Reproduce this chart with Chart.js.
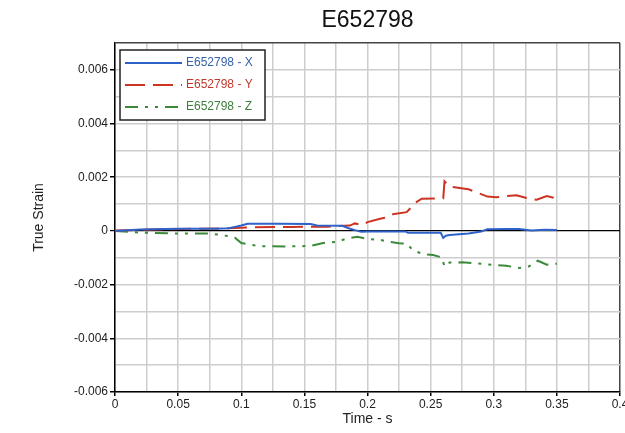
<!DOCTYPE html>
<html>
<head>
<meta charset="utf-8">
<script src="https://cdn.jsdelivr.net/npm/chart.js@4.4.0/dist/chart.umd.min.js"></script>
<style>
  html, body { margin: 0; padding: 0; background: #fff; }
  #wrap { width: 625px; height: 433px; }
</style>
</head>
<body>
<div id="wrap"><canvas id="strain-chart" width="625" height="433"></canvas></div>
<script>
// Values
const chartTitle = 'E652798';
const seriesNames = ['E652798 - X', 'E652798 - Y', 'E652798 - Z'];

const xTime = [0, 0.02, 0.05, 0.08, 0.09, 0.095, 0.1, 0.105, 0.13, 0.155, 0.16, 0.18, 0.185, 0.19,
  0.195, 0.2, 0.23, 0.232, 0.258, 0.26, 0.262, 0.265, 0.28, 0.29, 0.295, 0.31, 0.32, 0.33, 0.34, 0.35];
const xStrain = [0, 0.00005, 0.00008, 0.00008, 0.0001, 0.00015, 0.0002, 0.00027, 0.00027, 0.00026,
  0.0002, 0.00019, 0.0001, 0.00003, -0.00003, -0.00002, -0.00002, -0.00007, -0.00007, -0.00026,
  -0.00018, -0.00015, -0.0001, -0.00002, 0.00006, 0.00007, 0.00007, 0.00002, 0.00004, 0.00003];

const yTime = [0, 0.03, 0.06, 0.09, 0.11, 0.14, 0.168, 0.186, 0.19, 0.196, 0.2, 0.21, 0.215, 0.22,
  0.231, 0.234, 0.238, 0.243, 0.26, 0.261, 0.265, 0.273, 0.28, 0.295, 0.302, 0.31, 0.318, 0.326,
  0.334, 0.342, 0.35];
const yStrain = [0.00002, 0.00005, 0.00008, 0.0001, 0.00014, 0.00015, 0.00016, 0.0002, 0.00028,
  0.00022, 0.00033, 0.00045, 0.0005, 0.00062, 0.0007, 0.00085, 0.00105, 0.0012, 0.00122, 0.00185,
  0.00165, 0.0016, 0.00155, 0.00128, 0.00125, 0.0013, 0.00133, 0.00123, 0.00116, 0.0013, 0.00121];

const zTime = [0, 0.02, 0.05, 0.075, 0.085, 0.095, 0.1, 0.115, 0.135, 0.155, 0.165, 0.176, 0.184,
  0.192, 0.2, 0.21, 0.216, 0.225, 0.231, 0.236, 0.244, 0.252, 0.259, 0.261, 0.265, 0.275, 0.29,
  0.3, 0.31, 0.32, 0.328, 0.335, 0.342, 0.35];
const zStrain = [0, -0.00006, -0.0001, -0.0001, -0.00015, -0.00025, -0.00045, -0.00057, -0.00058,
  -0.00056, -0.00045, -0.0004, -0.00028, -0.00022, -0.0003, -0.00033, -0.0004, -0.00046, -0.00047,
  -0.00072, -0.00086, -0.0009, -0.00099, -0.00133, -0.00118, -0.00117, -0.00122, -0.00127, -0.0013,
  -0.00138, -0.00132, -0.00111, -0.00126, -0.00122];

const timeLabels = ['0', '0.05', '0.1', '0.15', '0.2', '0.25', '0.3', '0.35', '0.4'];
const strainLabels = ['-0.006', '-0.004', '-0.002', '0', '0.002', '0.004', '0.006'];

const lineColors = ['#2f62c8', '#cc3322', '#3b8a3b'];
const textColors = ['#3563a8', '#bf3a2c', '#3f7f3a'];
const dashes = [[], [20, 8], [13, 7, 3, 7, 3, 7]];
const fontFamily = 'Arial, "Liberation Sans", sans-serif';

function toPoints(ts, vs) {
  return ts.map((t, i) => ({ x: t, y: vs[i] }));
}

function near(a, b) {
  return Math.abs(a - b) < 1e-9;
}

function timeLabel(v) {
  const s = timeLabels.find(l => near(parseFloat(l), v));
  return s === undefined ? '' : s;
}

function strainLabel(v) {
  const s = strainLabels.find(l => near(parseFloat(l), v));
  return s === undefined ? '' : s;
}

// title centred over the plot area, not the whole canvas
const plotTitle = {
  id: 'plotTitle',
  afterDraw(chart) {
    const ctx = chart.ctx;
    const area = chart.chartArea;
    ctx.save();
    ctx.font = '23px ' + fontFamily;
    ctx.fillStyle = '#111';
    ctx.textAlign = 'center';
    ctx.textBaseline = 'middle';
    ctx.fillText(chartTitle, (area.left + area.right) / 2, 21);
    ctx.restore();
  }
};

// legend drawn inside the plot, boxed, like the original
const boxLegend = {
  id: 'boxLegend',
  afterDatasetsDraw(chart) {
    const ctx = chart.ctx;
    const area = chart.chartArea;
    const left = area.left + 5, top = area.top + 7;
    const w = 145, h = 70;
    ctx.save();
    ctx.fillStyle = '#fff';
    ctx.fillRect(left, top, w, h);
    ctx.strokeStyle = '#222';
    ctx.lineWidth = 1.5;
    ctx.strokeRect(left, top, w, h);
    ctx.font = '12px ' + fontFamily;
    ctx.textBaseline = 'middle';
    seriesNames.forEach((name, i) => {
      const y = top + 13 + i * 22;
      ctx.beginPath();
      ctx.setLineDash(dashes[i]);
      ctx.strokeStyle = lineColors[i];
      ctx.lineWidth = 2;
      ctx.moveTo(left + 5, y);
      ctx.lineTo(left + 62, y);
      ctx.stroke();
      ctx.setLineDash([]);
      ctx.fillStyle = textColors[i];
      ctx.fillText(name, left + 66, y);
    });
    ctx.restore();
  }
};

const series = [toPoints(xTime, xStrain), toPoints(yTime, yStrain), toPoints(zTime, zStrain)];

new Chart(document.getElementById('strain-chart'), {
  type: 'scatter',
  data: {
    datasets: series.map((pts, i) => ({
      label: seriesNames[i],
      data: pts,
      showLine: true,
      borderColor: lineColors[i],
      backgroundColor: lineColors[i],
      borderWidth: 2,
      borderDash: dashes[i],
      pointRadius: 0,
      tension: 0
    }))
  },
  options: {
    responsive: false,
    animation: false,
    events: [],
    layout: { padding: { left: 0, right: 5, top: 43, bottom: 0 } },
    plugins: {
      legend: { display: false },
      tooltip: { enabled: false },
      title: { display: false }
    },
    scales: {
      x: {
        type: 'linear',
        min: 0,
        max: 0.4,
        afterFit(scale) {
          scale.height = 41;
          scale.paddingLeft = 0;
          scale.paddingRight = 0;
        },
        ticks: {
          stepSize: 0.025,
          autoSkip: false,
          maxRotation: 0,
          padding: 1,
          color: '#222',
          font: { family: fontFamily, size: 12 },
          callback: v => timeLabel(v)
        },
        grid: {
          lineWidth: 1.5,
          tickLength: 4,
          color: c => (c.tick && near(c.tick.value, 0.4)) ? '#444' : '#cdcdcd',
          tickColor: c => (c.tick && timeLabel(c.tick.value) !== '') ? '#000' : 'rgba(0,0,0,0)'
        },
        border: { display: true, color: '#000', width: 1.5 },
        title: {
          display: true,
          text: 'Time - s',
          color: '#222',
          font: { family: fontFamily, size: 14 },
          padding: { top: 0, bottom: 5 }
        }
      },
      y: {
        type: 'linear',
        min: -0.006,
        max: 0.007,
        afterFit(scale) {
          scale.width = 115;
          scale.paddingTop = 0;
          scale.paddingBottom = 0;
        },
        ticks: {
          stepSize: 0.001,
          autoSkip: false,
          padding: 2,
          color: '#222',
          font: { family: fontFamily, size: 12 },
          callback: v => strainLabel(v)
        },
        grid: {
          lineWidth: c => (c.tick && near(c.tick.value, 0)) ? 1.2 : 1.5,
          tickLength: 5,
          color: c => {
            if (!c.tick) return '#cdcdcd';
            if (near(c.tick.value, 0)) return '#000';
            if (near(c.tick.value, 0.007)) return '#444';
            return '#cdcdcd';
          },
          tickColor: c => (c.tick && strainLabel(c.tick.value) !== '') ? '#000' : 'rgba(0,0,0,0)'
        },
        border: { display: true, color: '#000', width: 1.5 },
        title: {
          display: true,
          text: 'True Strain',
          color: '#222',
          font: { family: fontFamily, size: 14 },
          padding: { top: 31, bottom: 0 }
        }
      }
    }
  },
  plugins: [plotTitle, boxLegend]
});
</script>
</body>
</html>
